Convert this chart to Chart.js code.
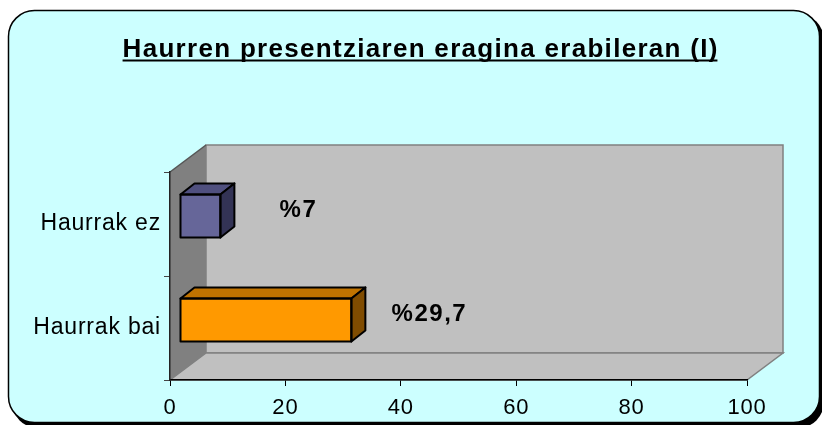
<!DOCTYPE html>
<html>
<head>
<meta charset="utf-8">
<script src="https://cdn.jsdelivr.net/npm/chart.js@4/dist/chart.umd.min.js"></script>
<style>
    html, body { margin: 0; padding: 0; background: #fff; }
    canvas { display: block; }
</style>
</head>
<body>
<canvas id="chart" width="822" height="425"></canvas>
<script>
const titleText = 'Haurren presentziaren eragina erabileran (I)';
const categories = ['Haurrak ez', 'Haurrak bai'];
const values = [7, 29.7];
const valueLabels = ['%7', '%29,7'];
const axisMin = 0;
const axisMax = 100;
const axisStep = 20;

const frontColors = ['#666699', '#FF9900'];
const topColors = ['#50507F', '#C07300'];
const sideColors = ['#333355', '#804C00'];

const FONT = '"Liberation Sans", Arial, sans-serif';
const wallDepth = { dx: 36, dy: 27 };
const barDepth = { dx: 14, dy: 11 };
const barShift = { x: 10, y: -8 };

function roundRect(ctx, x, y, w, h, r) {
    ctx.beginPath();
    ctx.moveTo(x + r, y);
    ctx.lineTo(x + w - r, y);
    ctx.arcTo(x + w, y, x + w, y + r, r);
    ctx.lineTo(x + w, y + h - r);
    ctx.arcTo(x + w, y + h, x + w - r, y + h, r);
    ctx.lineTo(x + r, y + h);
    ctx.arcTo(x, y + h, x, y + h - r, r);
    ctx.lineTo(x, y + r);
    ctx.arcTo(x, y, x + r, y, r);
    ctx.closePath();
}

function poly(ctx, pts) {
    ctx.beginPath();
    ctx.moveTo(pts[0][0], pts[0][1]);
    for (let i = 1; i < pts.length; i++) ctx.lineTo(pts[i][0], pts[i][1]);
    ctx.closePath();
}

const excel3d = {
    id: 'excel3d',
    beforeDraw(chart) {
        const ctx = chart.ctx;
        const ca = chart.chartArea;
        const W = chart.width, H = chart.height;

        ctx.save();
        ctx.fillStyle = '#fff';
        ctx.fillRect(0, 0, W, H);

        // shadow + frame
        ctx.fillStyle = '#000';
        roundRect(ctx, 12, 14, W - 10, H - 11, 26);
        ctx.fill();
        roundRect(ctx, 8.5, 10.5, W - 11, H - 13, 26);
        ctx.fillStyle = '#CCFFFF';
        ctx.fill();
        ctx.lineWidth = 1.5;
        ctx.strokeStyle = '#000';
        ctx.stroke();

        // title
        ctx.font = 'bold 26px ' + FONT;
        ctx.letterSpacing = '1.3px';
        ctx.fillStyle = '#000';
        ctx.textAlign = 'left';
        ctx.textBaseline = 'alphabetic';
        const tw = ctx.measureText(titleText).width - 1.3;
        const tx = 420 - tw / 2;
        ctx.fillText(titleText, tx, 57);
        ctx.fillRect(tx, 59.5, tw, 2);
        ctx.letterSpacing = '0px';

        // walls
        const dx = wallDepth.dx, dy = wallDepth.dy;
        ctx.lineWidth = 1.5;
        ctx.strokeStyle = '#808080';
        ctx.fillStyle = '#C0C0C0';
        ctx.fillRect(ca.left + dx, ca.top - dy, ca.right - ca.left, ca.bottom - ca.top);
        ctx.strokeRect(ca.left + dx, ca.top - dy, ca.right - ca.left, ca.bottom - ca.top);

        poly(ctx, [[ca.left, ca.bottom], [ca.left + dx, ca.bottom - dy], [ca.right + dx, ca.bottom - dy], [ca.right, ca.bottom]]);
        ctx.fillStyle = '#C0C0C0';
        ctx.fill();
        ctx.stroke();

        poly(ctx, [[ca.left, ca.top], [ca.left + dx, ca.top - dy], [ca.left + dx, ca.bottom - dy], [ca.left, ca.bottom]]);
        ctx.fillStyle = '#808080';
        ctx.fill();
        ctx.beginPath();
        ctx.moveTo(ca.left, ca.top);
        ctx.lineTo(ca.left + dx, ca.top - dy);
        ctx.strokeStyle = '#555';
        ctx.stroke();
        ctx.restore();

        ctx.letterSpacing = '0.8px';
    },
    beforeDatasetsDraw(chart) {
        chart.ctx.save();
        chart.ctx.translate(barShift.x, barShift.y);
    },
    afterDatasetsDraw(chart) {
        const ctx = chart.ctx;
        const meta = chart.getDatasetMeta(0);
        const dx = barDepth.dx, dy = barDepth.dy;
        ctx.lineWidth = 2;
        ctx.lineJoin = 'round';
        ctx.strokeStyle = '#000';
        meta.data.forEach((bar, i) => {
            const p = bar.getProps(['x', 'y', 'base', 'height'], true);
            const l = Math.min(p.base, p.x), r = Math.max(p.base, p.x);
            const t = p.y - p.height / 2, b = p.y + p.height / 2;
            poly(ctx, [[l, t], [l + dx, t - dy], [r + dx, t - dy], [r, t]]);
            ctx.fillStyle = topColors[i];
            ctx.fill();
            ctx.stroke();
            poly(ctx, [[r, t], [r + dx, t - dy], [r + dx, b - dy], [r, b]]);
            ctx.fillStyle = sideColors[i];
            ctx.fill();
            ctx.stroke();
            ctx.strokeRect(l, t, r - l, b - t);

            ctx.font = 'bold 24px ' + FONT;
            ctx.letterSpacing = '1.5px';
            ctx.fillStyle = '#000';
            ctx.textAlign = 'center';
            ctx.textBaseline = 'middle';
            ctx.fillText(valueLabels[i], r + dx / 2 + 71, p.y - dy / 2);
        });
        ctx.restore();
    }
};

new Chart(document.getElementById('chart').getContext('2d'), {
    type: 'bar',
    data: {
        labels: categories,
        datasets: [{
            data: values,
            backgroundColor: frontColors,
            borderWidth: 0,
            categoryPercentage: 1,
            barPercentage: 0.415,
            clip: false
        }]
    },
    options: {
        indexAxis: 'y',
        responsive: false,
        devicePixelRatio: 1,
        animation: false,
        layout: { padding: { top: 172, right: 75, left: 0, bottom: 0 } },
        plugins: {
            legend: { display: false },
            tooltip: { enabled: false },
            title: { display: false }
        },
        scales: {
            x: {
                min: axisMin,
                max: axisMax,
                ticks: { stepSize: axisStep, color: '#000', padding: 9, font: { family: FONT, size: 22 } },
                grid: { drawOnChartArea: false, drawTicks: true, tickLength: 6, color: '#000' },
                border: { display: true, color: '#000', width: 1.5 },
                afterFit(scale) { scale.height = 45; }
            },
            y: {
                ticks: { color: '#000', padding: 3, font: { family: FONT, size: 23 } },
                grid: { drawOnChartArea: false, drawTicks: true, tickLength: 6, color: '#444', offset: true },
                border: { display: true, color: '#222', width: 1.5 },
                afterFit(scale) { scale.width = 170; }
            }
        }
    },
    plugins: [excel3d]
});
</script>
</body>
</html>
